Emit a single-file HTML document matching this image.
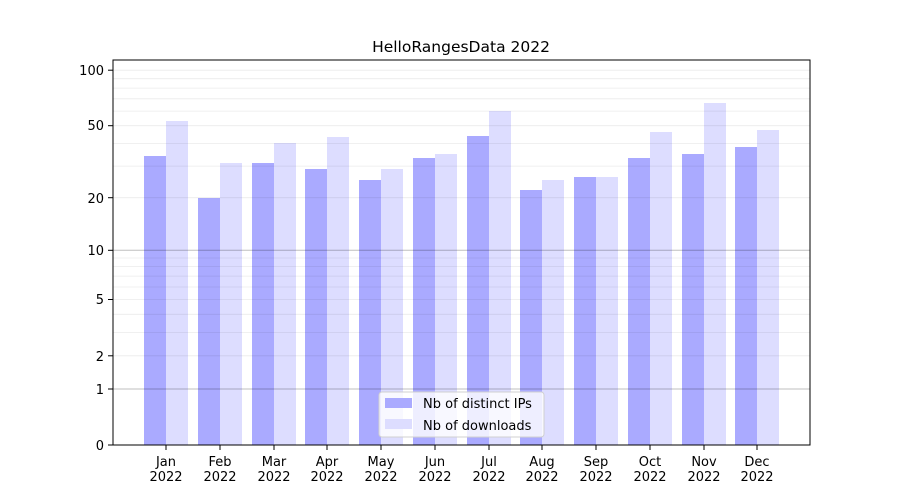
<!DOCTYPE html>
<html><head><meta charset="utf-8"><style>body{margin:0;background:#fff}svg{display:block}text{font-family:"DejaVu Sans","Liberation Sans",sans-serif;font-size:13px;fill:#000}</style></head>
<body>
<svg width="900" height="500" xmlns="http://www.w3.org/2000/svg">
<rect width="900" height="500" fill="#fff"/>
<g fill="#aaaaff">
<rect x="144" y="156" width="22" height="289"/><rect x="198" y="198" width="22" height="247"/><rect x="252" y="163" width="22" height="282"/><rect x="305" y="169" width="22" height="276"/><rect x="359" y="180" width="22" height="265"/><rect x="413" y="158" width="22" height="287"/><rect x="467" y="136" width="22" height="309"/><rect x="520" y="190" width="22" height="255"/><rect x="574" y="177" width="22" height="268"/><rect x="628" y="158" width="22" height="287"/><rect x="682" y="154" width="22" height="291"/><rect x="735" y="147" width="22" height="298"/>
</g>
<g fill="#ddddff">
<rect x="166" y="121" width="22" height="324"/><rect x="220" y="163" width="22" height="282"/><rect x="274" y="143" width="22" height="302"/><rect x="327" y="137" width="22" height="308"/><rect x="381" y="169" width="22" height="276"/><rect x="435" y="154" width="22" height="291"/><rect x="489" y="111" width="22" height="334"/><rect x="542" y="180" width="22" height="265"/><rect x="596" y="177" width="22" height="268"/><rect x="650" y="132" width="22" height="313"/><rect x="704" y="103" width="22" height="342"/><rect x="757" y="130" width="22" height="315"/>
</g>
<g stroke="rgba(0,0,0,0.08)" stroke-width="0.8">
<line x1="113" x2="810" y1="355.8" y2="355.8"/><line x1="113" x2="810" y1="332.4" y2="332.4"/><line x1="113" x2="810" y1="314.3" y2="314.3"/><line x1="113" x2="810" y1="299.5" y2="299.5"/><line x1="113" x2="810" y1="287" y2="287"/><line x1="113" x2="810" y1="276.1" y2="276.1"/><line x1="113" x2="810" y1="266.6" y2="266.6"/><line x1="113" x2="810" y1="258" y2="258"/>
<line x1="113" x2="810" y1="197.7" y2="197.7"/><line x1="113" x2="810" y1="166.1" y2="166.1"/><line x1="113" x2="810" y1="143.4" y2="143.4"/><line x1="113" x2="810" y1="125.7" y2="125.7"/><line x1="113" x2="810" y1="111.1" y2="111.1"/><line x1="113" x2="810" y1="98.8" y2="98.8"/><line x1="113" x2="810" y1="88.1" y2="88.1"/><line x1="113" x2="810" y1="78.7" y2="78.7"/><line x1="113" x2="810" y1="70.2" y2="70.2"/>
</g>
<g stroke="rgba(0,0,0,0.25)" stroke-width="1"><line x1="113" x2="810" y1="389" y2="389"/><line x1="113" x2="810" y1="250.3" y2="250.3"/></g>
<rect x="113" y="60" width="697" height="385" fill="none" stroke="#000" stroke-width="1"/>
<g stroke="#000"><line x1="108" x2="113" y1="445" y2="445"/><line x1="108" x2="113" y1="389" y2="389"/><line x1="108" x2="113" y1="355.8" y2="355.8"/><line x1="108" x2="113" y1="299.5" y2="299.5"/><line x1="108" x2="113" y1="250.3" y2="250.3"/><line x1="108" x2="113" y1="197.7" y2="197.7"/><line x1="108" x2="113" y1="125.7" y2="125.7"/><line x1="108" x2="113" y1="70.2" y2="70.2"/>
</g>
<g text-anchor="end"><text x="104" y="450">0</text><text x="104" y="394">1</text><text x="104" y="361">2</text><text x="104" y="304">5</text><text x="104" y="255">10</text><text x="104" y="203">20</text><text x="104" y="130">50</text><text x="104" y="75">100</text></g>
<g stroke="#000">
<line x1="166" x2="166" y1="445" y2="450"/><line x1="220" x2="220" y1="445" y2="450"/><line x1="274" x2="274" y1="445" y2="450"/><line x1="327" x2="327" y1="445" y2="450"/><line x1="381" x2="381" y1="445" y2="450"/><line x1="435" x2="435" y1="445" y2="450"/><line x1="489" x2="489" y1="445" y2="450"/><line x1="542" x2="542" y1="445" y2="450"/><line x1="596" x2="596" y1="445" y2="450"/><line x1="650" x2="650" y1="445" y2="450"/><line x1="704" x2="704" y1="445" y2="450"/><line x1="757" x2="757" y1="445" y2="450"/>
</g>
<g text-anchor="middle">
<text x="166" y="466">Jan</text><text x="220" y="466">Feb</text><text x="274" y="466">Mar</text><text x="327" y="466">Apr</text><text x="381" y="466">May</text><text x="435" y="466">Jun</text><text x="489" y="466">Jul</text><text x="542" y="466">Aug</text><text x="596" y="466">Sep</text><text x="650" y="466">Oct</text><text x="704" y="466">Nov</text><text x="757" y="466">Dec</text>
<text x="166" y="481">2022</text><text x="220" y="481">2022</text><text x="274" y="481">2022</text><text x="327" y="481">2022</text><text x="381" y="481">2022</text><text x="435" y="481">2022</text><text x="489" y="481">2022</text><text x="542" y="481">2022</text><text x="596" y="481">2022</text><text x="650" y="481">2022</text><text x="704" y="481">2022</text><text x="757" y="481">2022</text>
<text x="461" y="52" style="font-size:15.5px">HelloRangesData 2022</text>
</g>
<rect x="379" y="392" width="165" height="45" rx="3" fill="#fff" fill-opacity="0.8" stroke="#d0d0d0"/>
<rect x="385" y="398" width="27" height="10" fill="#aaaaff"/>
<rect x="385" y="419" width="27" height="10" fill="#ddddff"/>
<text x="423" y="408">Nb of distinct IPs</text>
<text x="423" y="430">Nb of downloads</text>
</svg>
</body></html>
